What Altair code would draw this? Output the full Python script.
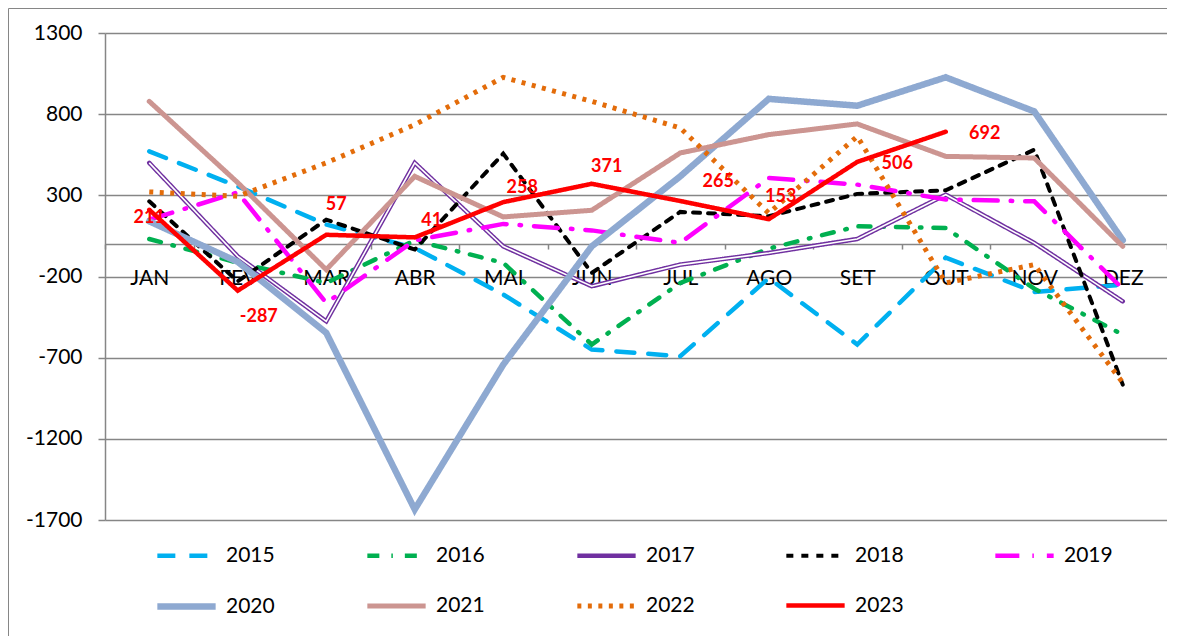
import altair as alt
import pandas as pd

months = ["JAN", "FEV", "MAR", "ABR", "MAI", "JUN", "JUL", "AGO", "SET", "OUT", "NOV", "DEZ"]
years = ["2015", "2016", "2017", "2018", "2019", "2020", "2021", "2022", "2023"]

v2015 = [571, 355, 120, -24, -311, -650, -691, -210, -619, -84, -295, -250]
v2016 = [31, -115, -240, 22, -116, -619, -240, -28, 109, 99, -275, -558]
v2017 = [500, -76, -476, 500, -14, -260, -127, -55, 31, 304, 7, -353]
v2018 = [263, -230, 150, -34, 557, -178, 198, 171, 309, 331, 581, -866]
v2019 = [150, 318, -363, 23, 124, 84, 7, 407, 366, 274, 263, -276]
v2020 = [140, -110, -547, -1635, -743, -14, 417, 894, 852, 1027, 817, 23]
v2021 = [879, 378, -158, 417, 167, 208, 561, 674, 740, 540, 530, -14]
v2022 = [321, 294, 500, 735, 1027, 879, 715, 190, 663, -240, -127, -855]
v2023 = [211, -287, 57, 41, 258, 371, 265, 153, 506, 692]

series = [v2015, v2016, v2017, v2018, v2019, v2020, v2021, v2022, v2023]
rows = []
for yr, vals in zip(years, series):
    for m, v in zip(months, vals):
        rows.append({"ano": yr, "mes": m, "valor": v})
df = pd.DataFrame(rows)
df23 = df[df["ano"] == "2023"]

y_ticks = [-1700, -1200, -700, -200, 300, 800, 1300]

# styles
colors = ["#00B0F0", "#00B050", "#7030A0", "#000000", "#FF00FF",
          "#8EA9D1", "#CC9591", "#E36C0A", "#FF0000"]
widths = [4.5, 4.5, 4.5, 4, 4.5, 6.5, 5, 5, 4.5]
dashes = [[18, 14], [12, 12, 1.5, 12], [1, 0], [7, 8], [24, 13, 1.5, 13],
          [1, 0], [1, 0], [4, 6.5], [1, 0]]
caps = ["round", "round", "round", "round", "round", "round", "round", "butt", "round"]

W, H = 1062, 487
Y_MIN, Y_MAX = -1700, 1300
zero_offset = -H * (0 - Y_MIN) / (Y_MAX - Y_MIN)
GRID = "#868686"
FONT = "Lato"

x_enc = alt.X(
    "mes:N", sort=months, bandPosition=0.5, title=None,
    scale=alt.Scale(type="band", paddingInner=0, paddingOuter=0),
    axis=alt.Axis(orient="bottom", offset=zero_offset, labelAngle=0, tickBand="extent",
                  domainColor=GRID, domainWidth=1.5, tickColor=GRID, tickWidth=1.5,
                  tickSize=5, labelPadding=18, labelFont=FONT, labelFontSize=21,
                  labelColor="#000000", grid=False),
)
y_enc = alt.Y(
    "valor:Q", title=None,
    scale=alt.Scale(domain=[Y_MIN, Y_MAX], nice=False, zero=False),
    axis=alt.Axis(values=y_ticks, grid=True, gridColor=GRID, gridWidth=1.5,
                  domainColor=GRID, domainWidth=1.5, tickColor=GRID, tickWidth=1.5,
                  tickSize=7, labelPadding=16, labelFont=FONT, labelFontSize=21,
                  labelColor="#000000", labelExpr="'' + datum.value"),
)

leg = alt.Legend(title=None, orient="none", legendX=49, legendY=491, direction="horizontal",
                 columns=5, symbolType="stroke", symbolSize=3400, labelFont=FONT,
                 labelFontSize=21, labelColor="#000000", labelOffset=7,
                 columnPadding=82, rowPadding=8, padding=0)
color = alt.Color("ano:N", scale=alt.Scale(domain=years, range=colors), legend=leg)
sdash = alt.StrokeDash("ano:N", scale=alt.Scale(domain=years, range=dashes), legend=leg)
swidth = alt.StrokeWidth("ano:N", scale=alt.Scale(type="ordinal", domain=years, range=widths), legend=leg)

base = alt.Chart(df).encode(x=x_enc, y=y_enc, color=color, strokeDash=sdash, strokeWidth=swidth)

line_layers = []
for yr, cap in zip(years, caps):
    line_layers.append(
        base.transform_filter(alt.datum.ano == yr).mark_line(strokeCap=cap)
    )
    if yr == "2017":
        line_layers.append(
            alt.Chart(df).transform_filter(alt.datum.ano == "2017").mark_line(
                color="white", strokeWidth=1.6
            ).encode(x=x_enc, y=y_enc)
        )

offsets = {"JAN": (0, 8), "FEV": (21, 26), "MAR": (10, -30), "ABR": (17, -16),
           "MAI": (19, -14), "JUN": (15, -17), "JUL": (38, -19), "AGO": (12, -22),
           "SET": (40, 2), "OUT": (39, 2)}
labels = []
for m, (dx, dy) in offsets.items():
    labels.append(
        alt.Chart(df23).transform_filter(alt.datum.mes == m).transform_calculate(
            lbl="'' + datum.valor"
        ).mark_text(
            dx=dx, dy=dy, color="#FF0000", font=FONT, fontSize=18, fontWeight="bold",
            align="center", baseline="middle"
        ).encode(x=x_enc, y=y_enc, text="lbl:N")
    )

border = alt.Chart(pd.DataFrame({"k": [0]})).mark_rect(
    fill="transparent", stroke=GRID, strokeWidth=1
).encode(x=alt.value(-96.5), x2=alt.value(1300), y=alt.value(-24.5), y2=alt.value(800))

chart = alt.layer(border, *line_layers, *labels).properties(
    width=W, height=H,
    autosize=alt.AutoSizeParams(type="none"),
    padding={"left": 97, "top": 25, "right": 0, "bottom": 116},
    background="white",
).configure_view(strokeWidth=0)

chart.save("out.html", embed_options={"renderer": "svg", "actions": False})
